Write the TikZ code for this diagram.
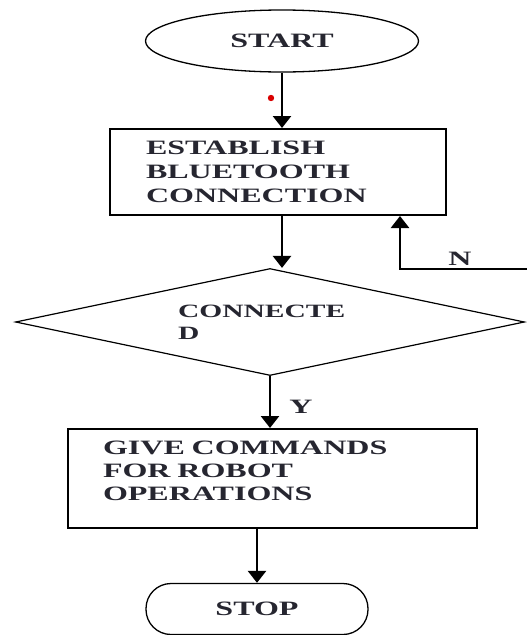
\documentclass[tikz,border=0pt]{standalone}
\usepackage{fontspec}
\newfontfamily\flowfont[FakeStretch=1.57]{Liberation Serif}
\usepackage{tikz}
\usetikzlibrary{calc, shapes.geometric, arrows.meta}
\definecolor{flowtext}{RGB}{38,38,48}

\begin{document}
\begin{tikzpicture}[x=1pt,y=-1pt,>={Triangle[width=18pt,length=12pt]},
  every node/.style={font=\flowfont\bfseries\fontsize{20.4pt}{24pt}\selectfont, text=flowtext},
  terminal/.style={draw, line width=1.3pt},
  procbox/.style={draw, line width=2pt, rectangle, align=left, inner xsep=36pt},
  decision/.style={draw, line width=1.2pt, diamond, aspect=4.75, inner sep=0pt, align=left},
  flowarrow/.style={line width=2.6pt, ->}]
\useasboundingbox (0,0) rectangle (527,635);

% shapes
\node[terminal, ellipse, minimum width=273pt, minimum height=62pt] (start) at (282,41) {START};
\node[procbox, text width=264pt, minimum height=86pt] (estab) at (278,172)
  {ESTABLISH\\BLUETOOTH\\CONNECTION};
\node[decision, text width=184pt, minimum width=509pt, minimum height=107pt,
  font=\flowfont\bfseries\fontsize{18.8pt}{22pt}\selectfont] (conn) at (270,322) {CONNECTE\\D};
\node[procbox, inner xsep=35pt, text width=339pt, minimum height=99pt,
  font=\flowfont\bfseries\fontsize{20.4pt}{23pt}\selectfont] (give) at (272.5,478.5)
  {GIVE COMMANDS\\FOR ROBOT\\OPERATIONS\\[-7pt]\mbox{}};
\node[terminal, rectangle, rounded corners=25pt, minimum width=222pt, minimum height=51pt] (stop) at (257,609) {STOP};

% connectors
\draw[flowarrow] (start.south) -- (start.south |- estab.north);
\draw[flowarrow] (start.south |- estab.south) -- (start.south |- conn.north);
\draw[flowarrow] (conn.south) -- (conn.south |- give.north);
\draw[flowarrow] (stop.north |- give.south) -- (stop.north);

\coordinate (nend) at (527,269);
\coordinate (nturn) at (400,269);
\draw[line width=1.7pt] (nend) -- ($(nturn)+(-1.3,0)$);
\draw[flowarrow] (nturn) -- (nturn |- estab.south);

% labels
\node (nlab) at (460,259) {N};
\node (ylab) at (301,407) {Y};
\fill[red!85!black] (271,98) circle (3.2pt);
\end{tikzpicture}
\end{document}
